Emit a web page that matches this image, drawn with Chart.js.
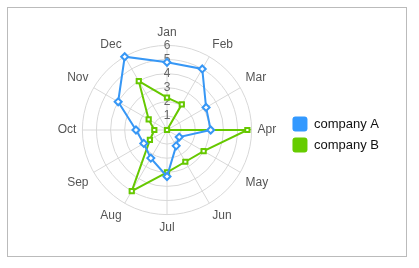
<!DOCTYPE html>
<html>
<head>
<meta charset="utf-8">
<script src="https://cdn.jsdelivr.net/npm/chart.js@4/dist/chart.umd.min.js"></script>
<style>
  body { margin: 0; background: #fff; }
  #box { position: absolute; left: 7px; top: 7px; width: 398px; height: 248px; border: 1px solid #bbb; }
</style>
</head>
<body>
<div id="box"><canvas id="radarChart"></canvas></div>
<script>
const months = ['Jan', 'Feb', 'Mar', 'Apr', 'May', 'Jun', 'Jul', 'Aug', 'Sep', 'Oct', 'Nov', 'Dec'];
const companyA = [4.8, 5.0, 3.2, 3.1, 1.0, 1.3, 3.3, 2.3, 1.9, 2.2, 4.0, 6.0];
const companyB = [2.3, 2.1, 0, 5.7, 3.0, 2.6, 3.0, 5.0, 1.4, 0.9, 1.5, 4.0];

const blue = '#3797f5';
const green = '#66c800';

const ctx = document.getElementById('radarChart').getContext('2d');
const chart = new Chart(ctx, {
    type: 'radar',
    data: {
        labels: months,
        datasets: [
            { label: 'company A', data: companyA, borderColor: blue, backgroundColor: '#3399ff',
              pointStyle: 'rectRot', pointRadius: 3.5, pointBorderWidth: 2, pointBackgroundColor: '#fff',
              pointBorderColor: blue, borderWidth: 2, fill: false },
            { label: 'company B', data: companyB, borderColor: green, backgroundColor: '#66cc00',
              pointStyle: 'rect', pointRadius: 3, pointBorderWidth: 2, pointBackgroundColor: '#fff',
              pointBorderColor: green, borderWidth: 2, fill: false }
        ]
    },
    options: {
        responsive: true,
        maintainAspectRatio: false,
        animation: false,
        layout: { padding: { left: 40, top: 18, bottom: 20, right: 17 } },
        elements: { line: { tension: 0 } },
        plugins: {
            legend: {
                position: 'right',
                // empty title only nudges the legend items down a bit
                title: { display: true, text: '', padding: 0, font: { size: 6 } },
                labels: {
                    generateLabels: function(chart) {
                        return chart.data.datasets.map((ds, i) => ({
                            text: ds.label, fillStyle: ds.backgroundColor, strokeStyle: ds.backgroundColor,
                            lineWidth: 0, borderRadius: 3, datasetIndex: i, fontColor: '#111'
                        }));
                    },
                    useBorderRadius: true,
                    boxWidth: 15, boxHeight: 15,
                    padding: 6,
                    color: '#111',
                    font: { family: 'Liberation Sans, Arial', size: 13 }
                }
            },
            tooltip: { enabled: false }
        },
        scales: {
            r: {
                min: 0, max: 6,
                ticks: { stepSize: 1, color: '#666', showLabelBackdrop: false,
                         font: { family: 'Liberation Sans, Arial', size: 12 } },
                grid: { circular: true, color: '#d8d8d8' },
                angleLines: { color: '#d8d8d8' },
                pointLabels: {
                    color: '#555',
                    padding: -2,
                    font: { family: 'Liberation Sans, Arial', size: 12 }
                }
            }
        }
    }
});
</script>
</body>
</html>
